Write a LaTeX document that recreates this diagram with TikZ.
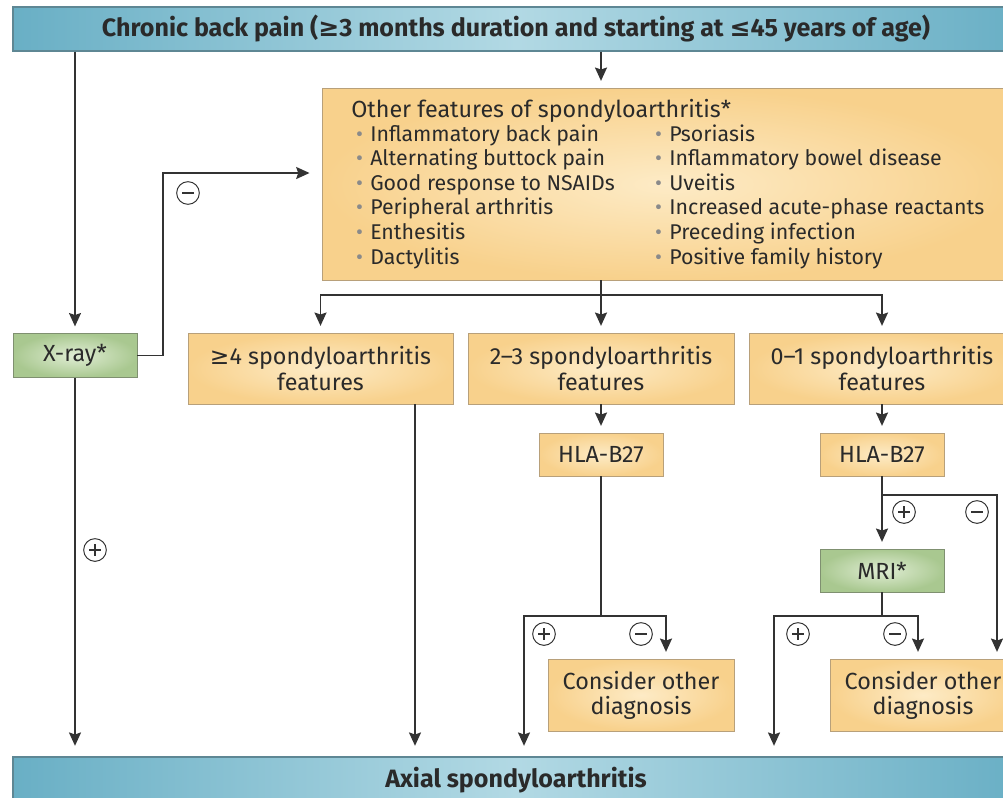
\documentclass[tikz,border=0pt]{standalone}
\usepackage{fontspec}
\setmainfont{Fira Sans}
\newfontfamily\symf{DejaVu Sans}
\usetikzlibrary{arrows.meta}
\definecolor{lncol}{HTML}{333333}
\definecolor{txtcol}{HTML}{2A2A2A}
\definecolor{orin}{HTML}{FDEBC6}
\definecolor{orout}{HTML}{F8D18C}
\definecolor{oredge}{HTML}{B8A07A}
\definecolor{grin}{HTML}{E0EDD4}
\definecolor{grout}{HTML}{A9C890}
\definecolor{gredge}{HTML}{7F9070}
\definecolor{blout}{HTML}{69AFC5}
\definecolor{blmid}{HTML}{B2D9E4}
\definecolor{bledge}{HTML}{5E8794}
\definecolor{bulcol}{HTML}{8A8A8A}
\newcommand\listfs{\fontsize{16}{18.4}\selectfont}
\newcommand\boxfs{\fontsize{17.5}{18.8}\selectfont}
\newcommand\barfs{\fontsize{18.8}{20}\selectfont\bfseries}
\newcommand\bul[1]{\makebox[0pt][r]{\textcolor{bulcol}{•}\hspace{5.5pt}}#1}
\begin{document}
\begin{tikzpicture}[x=0.75pt,y=-0.75pt,
  wh/.style 2 args={minimum width=#1*0.75pt, minimum height=#2*0.75pt},
  obox/.style={draw=oredge, line width=0.7pt, inner sep=0, align=center, font=\boxfs, text=txtcol,
    shading=radial, inner color=orin, outer color=orout},
  gbox/.style={draw=gredge, line width=0.7pt, inner sep=0, align=center, font=\boxfs, text=txtcol,
    shading=radial, inner color=grin, outer color=grout},
  bbar/.style={draw=bledge, line width=0.8pt, inner sep=0, font=\barfs, text=txtcol,
    left color=blout, right color=blout, middle color=blmid},
  ftxt/.style={anchor=base west, inner sep=0, font=\listfs, text=txtcol},
  ln/.style={draw=lncol, line width=1.3pt},
  arr/.style={ln, -{Stealth[length=10pt, width=9pt, inset=1.5pt]}, shorten >=5pt},
  sign/.style={circle, draw=lncol, line width=0.75pt, minimum size=17pt, inner sep=0, fill=white},
  minus/.style={sign, path picture={\draw[line width=1.4pt]
      ([xshift=-4.2pt]path picture bounding box.center) -- ([xshift=4.2pt]path picture bounding box.center);}},
  plus/.style={sign, path picture={\draw[line width=1.4pt]
      ([xshift=-4.2pt]path picture bounding box.center) -- ([xshift=4.2pt]path picture bounding box.center)
      ([yshift=-4.2pt]path picture bounding box.center) -- ([yshift=4.2pt]path picture bounding box.center);}}
]
\useasboundingbox (0,0) rectangle (1003,797);
\clip (0,0) rectangle (1003,797);

% bars
\node[bbar, wh={1006}{44}] (top) at (516,29)
  {Chronic back pain ({\symf ≥}3 months duration and starting at {\symf ≤}45 years of age)};
\node[bbar, wh={1006}{46}] (bottom) at (516,780) {Axial spondyloarthritis};

% features box
\node[obox, wh={690}{192}] (feat) at (667,184) {};
\node[ftxt, font=\boxfs] (ftitle) at (351,117) {Other features of spondyloarthritis*};
\node[ftxt] (l1) at (370,141) {\bul{Inflammatory back pain}};
\node[ftxt] (l2) at (370,165.6) {\bul{Alternating buttock pain}};
\node[ftxt] (l3) at (370,190.2) {\bul{Good response to NSAIDs}};
\node[ftxt] (l4) at (370,214.8) {\bul{Peripheral arthritis}};
\node[ftxt] (l5) at (370,239.4) {\bul{Enthesitis}};
\node[ftxt] (l6) at (370,264) {\bul{Dactylitis}};
\node[ftxt] (r1) at (669,141) {\bul{Psoriasis}};
\node[ftxt] (r2) at (669,165.6) {\bul{Inflammatory bowel disease}};
\node[ftxt] (r3) at (669,190.2) {\bul{Uveitis}};
\node[ftxt] (r4) at (669,214.8) {\bul{Increased acute-phase reactants}};
\node[ftxt] (r5) at (669,239.4) {\bul{Preceding infection}};
\node[ftxt] (r6) at (669,264) {\bul{Positive family history}};

% boxes
\node[gbox, wh={124}{44}] (xray) at (75,355.5) {X-ray*};
\node[obox, wh={265}{71}] (b1) at (320.5,368.5) {{\symf ≥}4 spondyloarthritis\\features};
\node[obox, wh={266}{71}] (b2) at (601,368.5) {2–3 spondyloarthritis\\features};
\node[obox, wh={266}{71}] (b3) at (882,368.5) {0–1 spondyloarthritis\\features};
\node[obox, wh={124}{43}] (hla1) at (601,454.5) {HLA-B27};
\node[obox, wh={124}{43}] (hla2) at (882,454.5) {HLA-B27};
\node[gbox, wh={124}{43}] (mri) at (882,570.5) {MRI*};
\node[obox, wh={186}{72}] (cod1) at (641,695) {Consider other\\diagnosis};
\node[obox, wh={186}{72}] (cod2) at (923,695) {Consider other\\diagnosis};

% junction coordinates
\coordinate (xr1) at (163,173);
\coordinate (fork1) at (601,295);
\coordinate (b1x) at (415,404);
\coordinate (f2) at (601,616);
\coordinate (f2l) at (524,616);
\coordinate (f2r) at (666,616);
\coordinate (f3) at (882,495);
\coordinate (f3r) at (997,495);
\coordinate (f4) at (882,616);
\coordinate (f4l) at (774,616);
\coordinate (f4r) at (918,616);

% connectors
\draw[arr] (top.south -| fork1) -- (feat.north -| fork1);
\draw[arr] (top.south -| xray.north) -- (xray.north);
\draw[arr, shorten >=9pt] (xray.east) -| (xr1) -- (xr1 -| feat.west);
\draw[arr, shorten >=8pt] (xray.south) -- (xray.south |- bottom.north);
\draw[ln] (feat.south -| fork1) -- (fork1);
\draw[arr] (fork1) -| (b1.north);
\draw[arr] (fork1) -| (b3.north);
\draw[arr] (fork1) -- (b2.north);
\draw[arr, shorten >=8pt] (b1x) -- (b1x |- bottom.north);
\draw[arr] (b2.south) -- (hla1.north);
\draw[ln] (hla1.south) -- (f2);
\draw[arr, shorten >=8pt] (f2) -- (f2l) -- (f2l |- bottom.north);
\draw[arr] (f2) -- (f2r) -- (f2r |- cod1.north);
\draw[arr] (b3.south) -- (hla2.north);
\draw[arr] (hla2.south) -- (mri.north);
\draw[arr] (f3) -- (f3r) -- (f3r |- cod2.north);
\draw[ln] (mri.south) -- (f4);
\draw[arr, shorten >=8pt] (f4) -- (f4l) -- (f4l |- bottom.north);
\draw[arr] (f4) -- (f4r) -- (f4r |- cod2.north);

% signs
\node[plus] (pl1) at (95,550) {};
\node[minus] (mi1) at (188,193) {};
\node[plus] (pl2) at (544,634) {};
\node[minus] (mi2) at (641,634) {};
\node[plus] (pl3) at (904,512) {};
\node[minus] (mi3) at (977,512) {};
\node[plus] (pl4) at (798,634) {};
\node[minus] (mi4) at (895,634) {};
\end{tikzpicture}
\end{document}
